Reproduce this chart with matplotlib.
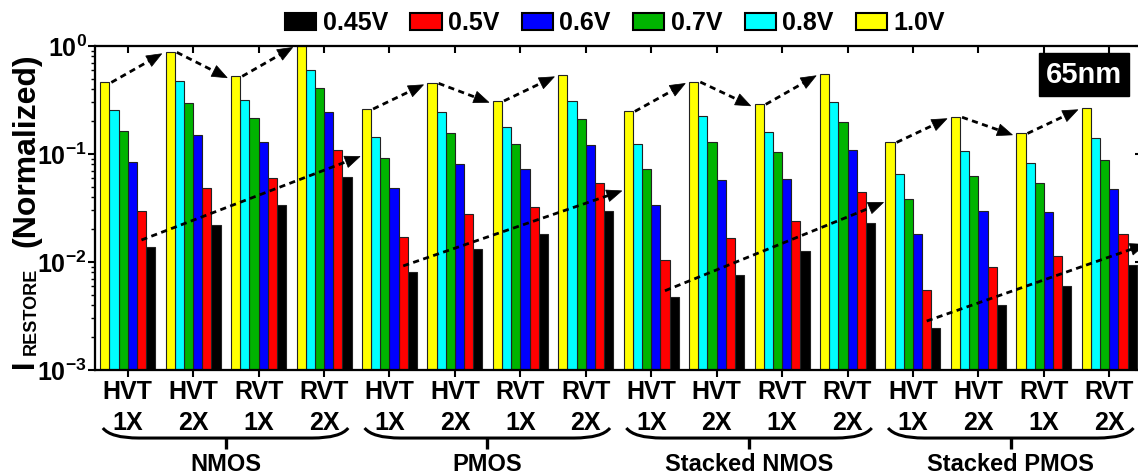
import matplotlib
matplotlib.use('Agg')
import matplotlib.pyplot as plt
import matplotlib.patches as patches
import matplotlib.transforms as mtransforms
from matplotlib.path import Path
from matplotlib.ticker import NullFormatter
import numpy as np

plt.rcParams['font.family'] = 'Liberation Sans'
plt.rcParams['font.weight'] = 'bold'
plt.rcParams['mathtext.fontset'] = 'custom'
plt.rcParams['mathtext.rm'] = 'Liberation Sans:bold'
plt.rcParams['mathtext.bf'] = 'Liberation Sans:bold'
plt.rcParams['mathtext.it'] = 'Liberation Sans:bold'
plt.rcParams['mathtext.sf'] = 'Liberation Sans:bold'
plt.rcParams['axes.linewidth'] = 1.5

# categories (4 per device family)
vt_labels = ['HVT', 'HVT', 'RVT', 'RVT'] * 4
size_labels = ['1X', '2X', '1X', '2X'] * 4
families = ['NMOS', 'PMOS', 'Stacked NMOS', 'Stacked PMOS']

# normalized restore current per supply voltage
voltages = ['0.45V', '0.5V', '0.6V', '0.7V', '0.8V', '1.0V']
v045 = [0.0139, 0.0222, 0.0335, 0.0612, 0.0080, 0.0132, 0.0180, 0.0294,
        0.00471, 0.00758, 0.01256, 0.0230, 0.00247, 0.0040, 0.0060, 0.0094]
v050 = [0.0297, 0.0485, 0.0596, 0.110, 0.0169, 0.0280, 0.0321, 0.0535,
        0.0104, 0.0167, 0.0240, 0.0442, 0.00551, 0.00893, 0.01145, 0.0180]
v060 = [0.084, 0.149, 0.130, 0.243, 0.048, 0.0808, 0.0722, 0.122,
        0.0335, 0.0578, 0.0587, 0.109, 0.0180, 0.0295, 0.029, 0.0474]
v070 = [0.163, 0.297, 0.217, 0.408, 0.0918, 0.155, 0.123, 0.211,
        0.0722, 0.128, 0.104, 0.197, 0.0383, 0.0630, 0.0535, 0.0887]
v080 = [0.255, 0.477, 0.316, 0.60, 0.145, 0.243, 0.179, 0.312,
        0.123, 0.225, 0.160, 0.303, 0.0653, 0.107, 0.0831, 0.141]
v100 = [0.46, 0.874, 0.524, 1.0, 0.261, 0.451, 0.31, 0.535,
        0.248, 0.464, 0.288, 0.547, 0.128, 0.219, 0.155, 0.265]

series = [v045, v050, v060, v070, v080, v100]
colors = ['#000000', '#ff0000', '#0000ff', '#00b400', '#00ffff', '#ffff00']

W, H = 1138, 476
fig = plt.figure(figsize=(W / 100, H / 100), dpi=100)
ax = fig.add_axes([95 / W, 106 / H, 1047 / W, 324 / H])
ax.set_yscale('log')

x = np.arange(len(vt_labels))
bw = 0.14
for i, (vals, c) in enumerate(zip(series, colors)):
    ax.bar(x + (2.5 - i) * bw, vals, width=bw, color=c, edgecolor='#222222',
           linewidth=0.8, zorder=2)

ax.set_xlim(-0.5, len(x) - 0.5)
ax.set_ylim(1e-3, 1)

# ticks
ax.set_xticks(x)
ax.set_xticklabels([f'{a}\n{b}' for a, b in zip(vt_labels, size_labels)],
                   fontsize=18, linespacing=1.4)
ax.tick_params(axis='x', direction='out', length=5, width=1.5, pad=2)
ax.tick_params(axis='y', which='major', direction='out', length=5, width=1.5,
               labelsize=18, pad=1)
ax.tick_params(axis='y', which='minor', direction='out', length=3, width=1)
ax.yaxis.set_minor_formatter(NullFormatter())

axt = ax.twiny()
axt.set_xlim(ax.get_xlim())
axt.set_xticks(x)
axt.set_xticklabels([])
axt.tick_params(direction='in', length=5, width=1.5)

axr = ax.twinx()
axr.set_yscale('log')
axr.set_ylim(ax.get_ylim())
axr.tick_params(which='major', direction='in', length=5, width=1.5, labelright=False)
axr.tick_params(which='minor', direction='in', length=3, width=1)
axr.yaxis.set_minor_formatter(NullFormatter())


# dashed trend arrows: dashed shaft + solid head (drawn in pixel space)
def arrow(x0, y0, x1, y1, head_len=15, head_w=12):
    p0 = ax.transData.transform((x0, y0))
    p1 = ax.transData.transform((x1, y1))
    d = p1 - p0
    u = d / np.hypot(*d)
    n = np.array([-u[1], u[0]])
    base = p1 - u * head_len
    xm, ym = ax.transData.inverted().transform(base + u * 2)
    ax.plot([x0, xm], [y0, ym], color='black', lw=2, ls=(0, (2.2, 1.6)),
            clip_on=False, zorder=5)
    tri = [p1, base + n * head_w / 2, base - n * head_w / 2]
    ax.add_patch(patches.Polygon(tri, closed=True, facecolor='black', edgecolor='black',
                                 lw=0.5, transform=mtransforms.IdentityTransform(),
                                 clip_on=False, zorder=5))


top_vals = series[-1]
low_vals = series[0]
for k in range(len(families)):
    g0 = 4 * k
    for g in range(g0, g0 + 3):
        arrow(g - 0.25, top_vals[g], g + 1 - 0.48, top_vals[g + 1] * 0.97)
    arrow(g0 + 0.21, low_vals[g0] * 1.15, g0 + 4 - 0.45, low_vals[g0 + 3] * 1.55)

# 65nm tag
ax.text(0.9446, 0.912, '65nm', transform=ax.transAxes, color='white', fontsize=21,
        ha='center', va='center', zorder=6,
        bbox=dict(boxstyle='square,pad=0.25', facecolor='black', edgecolor='black'))

# braces and family names
tr = mtransforms.blended_transform_factory(ax.transData, ax.transAxes)
y_top, y_bot, y_tick, y_txt = -0.179, -0.210, -0.245, -0.293
for k, name in enumerate(families):
    xa = 4 * k - 0.38
    xb = 4 * k + 3 + 0.37
    xm = (xa + xb) / 2
    verts = [(xa, y_top), (xa + 0.12, y_bot), (xa + 0.55, y_bot),
             (xb - 0.55, y_bot),
             (xb - 0.12, y_bot), (xb, y_top)]
    codes = [Path.MOVETO, Path.CURVE3, Path.CURVE3, Path.LINETO, Path.CURVE3, Path.CURVE3]
    ax.add_patch(patches.PathPatch(Path(verts, codes), transform=tr, fill=False,
                                   lw=2.2, color='black', clip_on=False))
    ax.plot([xm, xm], [y_bot, y_tick], transform=tr, color='black', lw=2.4,
            clip_on=False, solid_capstyle='butt')
    ax.text(xm, y_txt, name, transform=tr, ha='center', va='center', fontsize=17)

# y label: I with subscript
fig.text(33 / W, 1 - 368 / H, 'I', fontsize=22, rotation=90, rotation_mode='anchor',
         ha='left', va='baseline')
fig.text(36 / W, 1 - 355 / H, 'RESTORE', fontsize=13, rotation=90, rotation_mode='anchor',
         ha='left', va='baseline')
fig.text(34 / W, 1 - 247 / H, '(Normalized)', fontsize=23, rotation=90,
         rotation_mode='anchor', ha='left', va='baseline')

# legend
handles = [patches.Patch(facecolor=c, edgecolor='black', linewidth=1.5) for c in colors]
fig.legend(handles, voltages, loc='center', bbox_to_anchor=(615 / W, 1 - 23 / H),
           ncol=6, frameon=False, fontsize=18, handlelength=1.25, handleheight=0.7,
           handletextpad=0.25, columnspacing=0.9, borderaxespad=0, borderpad=0)

fig.savefig('out.png', dpi=100)
